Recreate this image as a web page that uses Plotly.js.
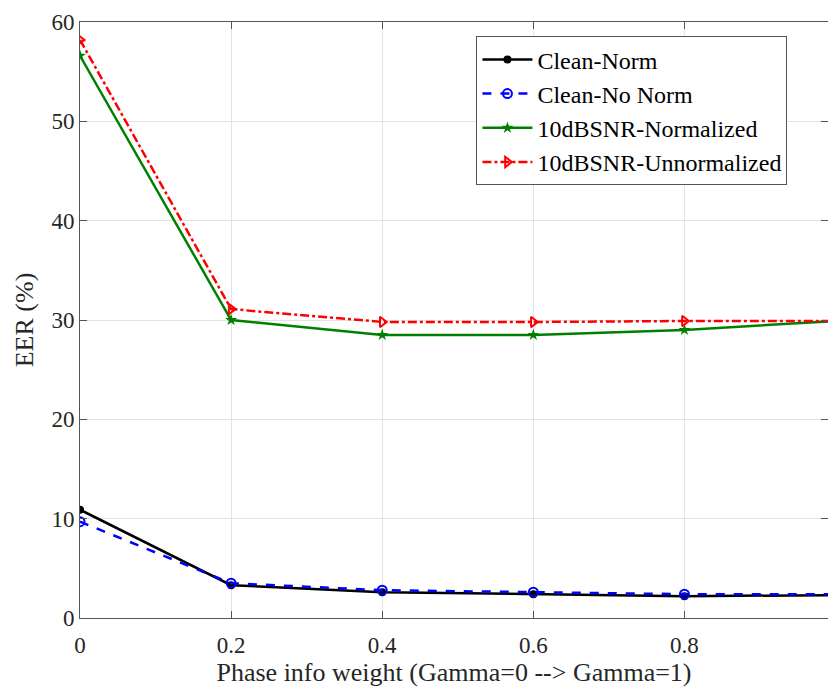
<!DOCTYPE html>
<html>
<head>
<meta charset="utf-8">
<script src="https://cdn.plot.ly/plotly-3.0.1.min.js"></script>
<style>html,body{margin:0;padding:0;background:#fff;}#chart{width:828px;height:693px;}</style>
</head>
<body>
<div id="chart"></div>
<script>
const xVals = [0, 0.2, 0.4, 0.6, 0.8, 1.0];
const cleanNorm = [10.9, 3.3, 2.6, 2.4, 2.2, 2.3];
const cleanNoNorm = [9.7, 3.5, 2.8, 2.6, 2.4, 2.4];
const snrNorm = [56.6, 30.0, 28.5, 28.5, 29.0, 29.9];
const snrUnnorm = [58.2, 31.1, 29.8, 29.8, 29.9, 29.9];
const seriesNames = ["Clean-Norm", "Clean-No Norm", "10dBSNR-Normalized", "10dBSNR-Unnormalized"];
const xTicks = [0, 0.2, 0.4, 0.6, 0.8];
const xTickText = ["0", "0.2", "0.4", "0.6", "0.8"];
const yTicks = [0, 10, 20, 30, 40, 50, 60];

const traces = [
  {x: xVals, y: cleanNorm, name: seriesNames[0], mode: "lines+markers",
   line: {color: "#000000", width: 2.5}, marker: {symbol: "circle", size: 8, color: "#000000"}},
  {x: xVals, y: cleanNoNorm, name: seriesNames[1], mode: "lines+markers",
   line: {color: "#0000ff", width: 2.5, dash: "dash"}, marker: {symbol: "circle-open", size: 9, color: "#0000ff", line: {width: 2}}},
  {x: xVals, y: snrNorm, name: seriesNames[2], mode: "lines+markers",
   line: {color: "#008000", width: 2.5}, marker: {symbol: "star", size: 9, color: "#008000"}},
  {x: xVals, y: snrUnnorm, name: seriesNames[3], mode: "lines+markers",
   line: {color: "#ff0000", width: 2.5, dash: "dashdot"}, marker: {symbol: "triangle-right-open", size: 9, color: "#ff0000", line: {width: 2}}}
];

const fontFam = "Times New Roman, Liberation Serif, serif";
const layout = {
  width: 828, height: 693,
  margin: {l: 80, r: 0, t: 22, b: 75},
  paper_bgcolor: "#ffffff", plot_bgcolor: "#ffffff",
  font: {family: fontFam, size: 21, color: "#262626"},
  showlegend: true,
  legend: {x: 0.53, y: 0.976, xanchor: "left", yanchor: "top",
    bgcolor: "#ffffff", bordercolor: "#555555", borderwidth: 1,
    itemwidth: 50,
    font: {family: fontFam, size: 24, color: "#000000"}, tracegroupgap: 0},
  xaxis: {
    range: [0, 0.99], tickvals: xTicks, ticktext: xTickText,
    showgrid: true, gridcolor: "#e3e3e3", gridwidth: 1,
    showline: true, linecolor: "#555555", linewidth: 1, mirror: "ticks",
    ticks: "inside", ticklen: 7, tickcolor: "#555555",
    zeroline: false, ticklabelstandoff: 6,
    tickfont: {family: fontFam, size: 23, color: "#262626"},
    title: {text: "Phase info weight (Gamma=0 --> Gamma=1)", font: {family: fontFam, size: 26, color: "#262626"}, standoff: 2}
  },
  yaxis: {
    range: [0, 60], tickvals: yTicks,
    showgrid: true, gridcolor: "#e3e3e3", gridwidth: 1,
    showline: true, linecolor: "#555555", linewidth: 1, mirror: "ticks",
    ticks: "inside", ticklen: 7, tickcolor: "#555555",
    zeroline: false,
    tickfont: {family: fontFam, size: 23, color: "#262626"},
    title: {text: "EER (%)", font: {family: fontFam, size: 26, color: "#262626"}, standoff: 10}
  }
};

Plotly.newPlot("chart", traces, layout, {displayModeBar: false, staticPlot: true});
</script>
</body>
</html>
